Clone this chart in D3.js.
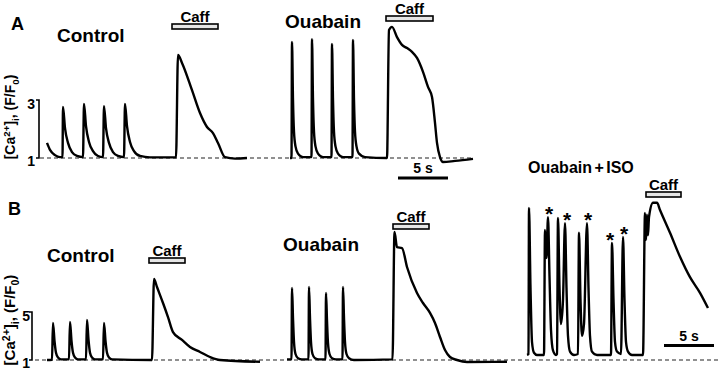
<!DOCTYPE html>
<html>
<head>
<meta charset="utf-8">
<script src="https://cdn.jsdelivr.net/npm/d3@7"></script>
<style>
  body { margin: 0; background: #fff; }
  svg { display: block; font-family: "Liberation Sans", Arial, sans-serif; font-weight: bold; }
</style>
</head>
<body>
<div id="ca_traces"></div>
<script>
// traces: [time (s) from trace start, [Ca2+]i as F/F0]
var aControl = [[0,1.52],[0.3,1.28],[0.8,1.1],[1.3,1.03],[1.55,1.03],[1.6,2.76],[1.8,2.03],[2.1,1.52],[2.5,1.2],[3.0,1.07],[3.6,1.03],
    [3.7,2.86],[3.9,2.1],[4.2,1.55],[4.6,1.24],[5.1,1.07],[5.6,1.03],[5.7,2.79],[5.9,2.03],[6.2,1.52],[6.6,1.2],[7.1,1.07],[7.7,1.03],
    [7.8,2.86],[8.0,2.1],[8.3,1.55],[8.7,1.24],[9.3,1.07],[10.3,1.02],[12.9,1.02],[13.1,4.55],[13.5,4.28],[14.5,3.34],[15.3,2.55],
    [16.0,2.07],[16.6,1.86],[17.1,1.52],[17.8,1.03],[18.8,0.98],[20.0,1.0]];
var aOuabain = [[0,1.0],[0.15,1.0],[0.2,5.0],[0.3,3.0],[0.4,1.9],[0.55,1.4],[0.8,1.15],[1.3,1.03],[2.15,1.03],[2.2,5.1],[2.3,3.0],
    [2.4,1.9],[2.55,1.4],[2.8,1.15],[3.3,1.03],[4.15,1.03],[4.2,4.93],[4.3,3.0],[4.4,1.9],[4.55,1.4],[4.8,1.15],[5.3,1.03],[6.25,1.03],
    [6.3,5.07],[6.4,3.0],[6.5,1.9],[6.65,1.4],[6.9,1.15],[7.5,1.03],[9.7,1.0],[9.9,5.41],[10.2,5.52],[10.7,5.17],[11.2,4.9],[11.7,4.79],
    [12.2,4.66],[12.7,4.45],[13.3,3.97],[13.8,3.45],[14.2,3.1],[14.5,2.21],[14.7,1.52],[15.0,1.03],[15.3,0.86],[16.5,0.9],[18.3,0.97]];
var bControl = [[0,1.0],[0.5,1.02],[0.6,4.08],[0.75,2.6],[0.9,1.6],[1.1,1.2],[1.4,1.05],[2.2,1.05],[2.3,4.17],[2.45,2.6],[2.6,1.6],
    [2.8,1.2],[3.1,1.05],[3.9,1.05],[4.0,4.33],[4.15,2.7],[4.3,1.6],[4.5,1.2],[4.8,1.05],[5.6,1.05],[5.7,4.08],[5.85,2.6],[6.0,1.6],
    [6.2,1.2],[6.5,1.05],[10.5,1.0],[10.7,7.75],[11.0,7.08],[11.6,5.75],[12.1,4.58],[12.6,3.33],[13.5,2.67],[14.3,2.08],[15.3,1.67],
    [16.3,1.25],[17.3,1.0],[21.3,0.85]];
var bOuabain = [[0,1.05],[0.45,1.05],[0.5,7.0],[0.6,4.5],[0.7,2.5],[0.85,1.5],[1.1,1.15],[1.5,1.05],[2.15,1.05],[2.2,7.08],[2.3,4.5],
    [2.4,2.5],[2.55,1.5],[2.8,1.15],[3.2,1.05],[3.85,1.05],[3.9,6.58],[4.0,4.3],[4.1,2.4],[4.25,1.5],[4.5,1.15],[4.9,1.05],[5.55,1.05],
    [5.6,7.08],[5.7,4.5],[5.8,2.5],[5.95,1.5],[6.2,1.15],[6.7,1.0],[10.55,1.05],[10.75,11.67],[11.0,10.4],[11.5,10.33],[12.0,8.75],
    [13.0,6.58],[13.6,5.75],[14.3,4.92],[14.8,4.08],[15.3,2.92],[15.8,1.83],[16.3,1.25],[17.0,1.0],[18.0,0.83],[22.0,0.85]];
var bOuabainIso = [[0,1.42],[0.15,1.5],[0.2,13.67],[0.35,7],[0.5,2.5],[0.7,1.6],[1.0,1.42],[1.7,1.42],[1.8,11.83],[1.95,9.5],[2.1,12.9],
    [2.25,8],[2.4,3.5],[2.6,1.8],[2.9,1.42],[3.0,1.5],[3.1,12.83],[3.25,7],[3.4,4],[3.6,6],[3.8,12.4],[3.95,7],[4.1,3],[4.3,1.7],
    [4.7,1.42],[5.1,1.5],[5.2,11.6],[5.35,6],[5.5,3],[5.7,4],[6.0,12.4],[6.15,7],[6.3,3],[6.5,1.7],[7.0,1.42],[8.4,1.42],[8.5,10.75],
    [8.65,6],[8.8,2.5],[9.0,1.7],[9.4,1.5],[9.6,11.25],[9.75,6],[9.9,2.5],[10.1,1.7],[10.5,1.42],[11.6,1.42],[11.8,13.25],[11.9,11],
    [12.0,13.1],[12.1,11.4],[12.2,12.9],[12.6,14.1],[13.0,14.1],[13.3,13.5],[14.3,11.6],[15.3,9.6],[16.3,7.9],[17.3,6.6],[18.1,5.33]];

// asterisked (triggered) beats in Ouabain + ISO: [time, peak F/F0]
var isoStars = [[2.2,12.9],[4.0,12.4],[6.1,12.4],[8.3,10.75],[9.7,11.25]];
// caffeine application: [start (s), duration (s)] per trace
var caffTimes = [[12.5,4.6],[9.6,4.7],[10.2,3.6],[10.6,3.6],[11.9,3.5]];
var scaleTicksA = [1, 3];
var scaleTicksB = [1, 5];
var scaleBarSec = 5;

////////////////////////////////////////////////////////////////////////////////////////////////

var width = 720, height = 373;
var svg = d3.select("#ca_traces").append("svg")
    .attr("width", width)
    .attr("height", height);

var xs = d3.scaleLinear().domain([0, 1]).range([0, 10]);          // 10 px per second
var yA = d3.scaleLinear().domain([1, 3]).range([158, 100]);
var yB = d3.scaleLinear().domain([1, 5]).range([360, 312]);

var traces = [
    {data: aControl,    y: yA, x0: 47,  label: "Control", lx: 57,  ly: 42},
    {data: aOuabain,    y: yA, x0: 290, label: "Ouabain", lx: 285, ly: 28},
    {data: bControl,    y: yB, x0: 47,  label: "Control", lx: 47,  ly: 262},
    {data: bOuabain,    y: yB, x0: 287, label: "Ouabain", lx: 283, ly: 251},
    {data: bOuabainIso, y: yB, x0: 527, label: "Ouabain + ISO", lx: 528, ly: 173, small: true}
];
var caffY = [24, 16, 258, 224, 192];

// dashed baselines
svg.append("line")
    .attr("x1", 40).attr("x2", 473)
    .attr("y1", yA(1)).attr("y2", yA(1))
    .attr("stroke", "#222").attr("stroke-width", 1.2).attr("stroke-dasharray", "4,3");
svg.append("line")
    .attr("x1", 35).attr("x2", 720)
    .attr("y1", yB(1)).attr("y2", yB(1))
    .attr("stroke", "#222").attr("stroke-width", 1.2).attr("stroke-dasharray", "4,3");

traces.forEach(function(tr, i) {
    var line = d3.line()
        .x(function(d) { return tr.x0 + xs(d[0]); })
        .y(function(d) { return tr.y(d[1]); })
        .curve(d3.curveMonotoneX);
    svg.append("path")
        .attr("d", line(tr.data))
        .attr("fill", "none")
        .attr("stroke", "#000")
        .attr("stroke-width", 2.4)
        .attr("stroke-linejoin", "round");

    svg.append("text")
        .attr("x", tr.lx).attr("y", tr.ly)
        .attr("font-size", tr.small ? 16 : 19)
        .attr("word-spacing", tr.small ? -2 : 0)
        .text(tr.label);

    // caffeine bar + label
    var c = caffTimes[i];
    var cx = tr.x0 + xs(c[0]), cw = xs(c[1]);
    svg.append("rect")
        .attr("x", cx).attr("y", caffY[i])
        .attr("width", cw).attr("height", 5)
        .attr("fill", "#e6e6e6")
        .attr("stroke", "#000").attr("stroke-width", 1.6);
    svg.append("text")
        .attr("x", cx + cw / 2).attr("y", caffY[i] - 2)
        .attr("text-anchor", "middle")
        .attr("font-size", 15)
        .text("Caff");
});

// asterisks over triggered beats
svg.selectAll(".star")
    .data(isoStars)
    .enter().append("text")
        .attr("class", "star")
        .attr("x", function(d) { return 527 + xs(d[0]); })
        .attr("y", function(d) { return yB(d[1]) - 8 + 12; })
        .attr("text-anchor", "middle")
        .attr("font-size", 21)
        .text("*");

// 5 s scale bars
[[398, 178], [664, 345.5]].forEach(function(p) {
    svg.append("line")
        .attr("x1", p[0]).attr("x2", p[0] + xs(scaleBarSec))
        .attr("y1", p[1]).attr("y2", p[1])
        .attr("stroke", "#000").attr("stroke-width", 3);
    svg.append("text")
        .attr("x", p[0] + xs(scaleBarSec) / 2).attr("y", p[1] - 5)
        .attr("text-anchor", "middle")
        .attr("font-size", 14)
        .text(scaleBarSec + " s");
});

// F/F0 scale brackets
function bracket(y, ticks, bx, tx, labelX, labelY, fs) {
    var g = svg.append("g");
    g.append("path")
        .attr("d", "M" + (bx - 3) + "," + y(ticks[1]) + "H" + bx + "V" + y(ticks[0]) + "H" + (bx - 3))
        .attr("fill", "none").attr("stroke", "#000").attr("stroke-width", 1.6);
    g.selectAll("text.tick")
        .data(ticks)
        .enter().append("text")
            .attr("class", "tick")
            .attr("x", tx)
            .attr("y", function(d, i) { return y(d) + (i === 0 ? 8 : 9); })
            .attr("text-anchor", "end")
            .attr("font-size", 14)
            .text(function(d) { return d; });
    var lab = g.append("text")
        .attr("transform", "translate(" + labelX + "," + labelY + ") rotate(-90)")
        .attr("text-anchor", "middle")
        .attr("font-size", fs);
    lab.append("tspan").text("[Ca");
    lab.append("tspan").attr("font-size", fs * 0.7).attr("dy", -fs * 0.35).text("2+");
    lab.append("tspan").attr("dy", fs * 0.35).text("]");
    lab.append("tspan").attr("font-size", fs * 0.7).attr("dy", fs * 0.25).text("i");
    lab.append("tspan").attr("dy", -fs * 0.25).text(", (F/F");
    lab.append("tspan").attr("font-size", fs * 0.7).attr("dy", fs * 0.25).text("0");
    lab.append("tspan").attr("dy", -fs * 0.25).text(")");
}
bracket(yA, scaleTicksA, 39, 35, 15, 117, 14);
bracket(yB, scaleTicksB, 32, 30, 15, 320, 15);

// panel letters
svg.append("text").attr("x", 11).attr("y", 30).attr("font-size", 18).text("A");
svg.append("text").attr("x", 8).attr("y", 215).attr("font-size", 18).text("B");
</script>
</body>
</html>
